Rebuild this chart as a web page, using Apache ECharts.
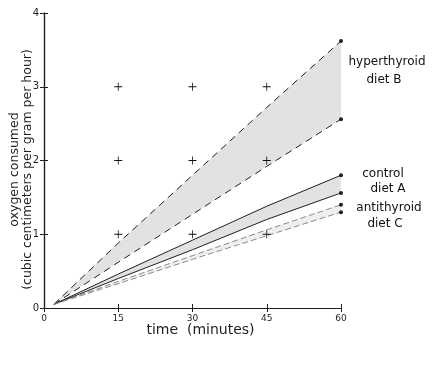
<!DOCTYPE html>
<html><head><meta charset="utf-8">
<script src="https://cdn.jsdelivr.net/npm/echarts@6/dist/echarts.min.js"></script>
<style>html,body{margin:0;padding:0;background:#fff}#c{width:437px;height:366px}</style>
</head><body><div id="c"></div>
<script>
const times = [2, 15, 30, 45, 60];
const hyperUpper = [0.05, 0.88, 1.80, 2.72, 3.62];
const hyperLower = [0.05, 0.62, 1.27, 1.92, 2.56];
const controlUpper = [0.05, 0.46, 0.92, 1.38, 1.80];
const controlLower = [0.05, 0.40, 0.79, 1.20, 1.56];
const antiUpper = [0.05, 0.36, 0.71, 1.06, 1.40];
const antiLower = [0.05, 0.33, 0.66, 0.98, 1.30];
const xTicks = [0, 15, 30, 45, 60];
const yTicks = [0, 1, 2, 3, 4];
const crossX = [15, 30, 45];
const crossY = [1, 2, 3];
const labelTexts = ['hyperthyroid', 'diet B', 'control', 'diet A', 'antithyroid', 'diet C'];
const labelY = [3.34, 3.09, 1.82, 1.61, 1.36, 1.14];

const pair = (arr) => times.map((t, i) => [t, arr[i]]);
const FONT = 'DejaVu Sans';
const INK = '#1e1e1e';

function band(name, lower, upper, lineColor, fillColor, dash) {
  return [
    {type: 'custom', name: name + ' band', data: [0], z: 1, silent: true,
     renderItem: (params, api) => {
       const pts = times.map((t, i) => api.coord([t, upper[i]]))
         .concat(times.slice().reverse().map((t, k) => {
           const i = times.length - 1 - k; return api.coord([t, lower[i]]);
         }));
       return {type: 'polygon', shape: {points: pts}, style: {fill: fillColor}};
     }},
    {type: 'line', name: name + ' low', data: pair(lower), symbol: 'none',
     lineStyle: {color: lineColor, width: 1, type: dash}, z: 3, silent: true},
    {type: 'line', name: name + ' up', data: pair(upper), symbol: 'none',
     lineStyle: {color: lineColor, width: 1, type: dash}, z: 3, silent: true}
  ];
}

const crosses = [];
crossX.forEach(x => crossY.forEach(y => crosses.push([x, y])));
const ends = [hyperUpper, hyperLower, controlUpper, controlLower, antiUpper, antiLower]
  .map(a => [times[times.length - 1], a[a.length - 1]]);
const labelOffsets = [46, 43, 42, 47, 48, 44];

const chart = echarts.init(document.getElementById('c'), null, {renderer: 'canvas'});
const axisLine = {show: true, lineStyle: {color: INK, width: 1.2}};
chart.setOption({
  animation: false,
  grid: {left: 44, right: 96, top: 13, bottom: 58, outerBoundsMode: 'none', containLabel: false},
  xAxis: [
    {type: 'value', min: 0, max: 60, interval: 15, position: 'bottom',
     axisLine, axisTick: {show: true, inside: true, length: 4, lineStyle: {color: INK}},
     axisLabel: {fontFamily: FONT, fontSize: 9, color: INK, margin: 6},
     splitLine: {show: false},
     name: 'time  (minutes)', nameLocation: 'middle', nameGap: 15, nameMoveOverlap: false,
     nameTextStyle: {fontFamily: FONT, fontSize: 14, color: INK, padding: [0, 0, 0, 16]}},
    {type: 'value', min: 0, max: 60, interval: 15, position: 'top',
     axisLine, axisTick: {show: true, inside: true, length: 4, lineStyle: {color: INK}},
     axisLabel: {show: false}, splitLine: {show: false}}
  ],
  yAxis: [
    {type: 'value', min: 0, max: 4, interval: 1, position: 'left',
     axisLine, axisTick: {show: true, inside: true, length: 4, lineStyle: {color: INK}},
     axisLabel: {fontFamily: FONT, fontSize: 10, color: INK, margin: 5},
     splitLine: {show: false},
     name: 'oxygen consumed\n(cubic centimeters per gram per hour)', nameLocation: 'middle',
     nameGap: 10, nameRotate: 90, nameMoveOverlap: false,
     nameTextStyle: {fontFamily: FONT, fontSize: 12.5, color: INK, lineHeight: 13, padding: [0, 18, 0, 0]}},
    {type: 'value', min: 0, max: 4, interval: 1, position: 'right',
     axisLine, axisTick: {show: true, inside: true, length: 4, lineStyle: {color: INK}},
     axisLabel: {show: false}, splitLine: {show: false}}
  ],
  series: [
    ...band('hyper', hyperLower, hyperUpper, INK, '#e2e2e2', [7, 5]),
    ...band('control', controlLower, controlUpper, INK, '#e2e2e2', 'solid'),
    ...band('anti', antiLower, antiUpper, '#8a8a8a', '#efefef', [6, 3]),
    {type: 'scatter', data: crosses, symbol: 'path://M4.5,0H5.5V4.5H10V5.5H5.5V10H4.5V5.5H0V4.5H4.5Z',
     symbolSize: 8, itemStyle: {color: '#111', opacity: 1}, z: 4, silent: true},
    {type: 'scatter', data: ends, symbol: 'circle', symbolSize: 4,
     itemStyle: {color: INK, opacity: 1}, z: 5, silent: true},
    {type: 'scatter', data: labelY.map(y => [60, y]), symbolSize: 1, silent: true, z: 6,
     itemStyle: {color: 'rgba(0,0,0,0)', opacity: 1},
     label: {show: true, position: 'inside',
       formatter: p => labelTexts[p.dataIndex],
       fontFamily: FONT, fontSize: 12, color: '#111', opacity: 1, align: 'center', verticalAlign: 'middle'},
     labelLayout: p => ({dx: labelOffsets[p.dataIndex]})}
  ]
});
</script></body></html>
